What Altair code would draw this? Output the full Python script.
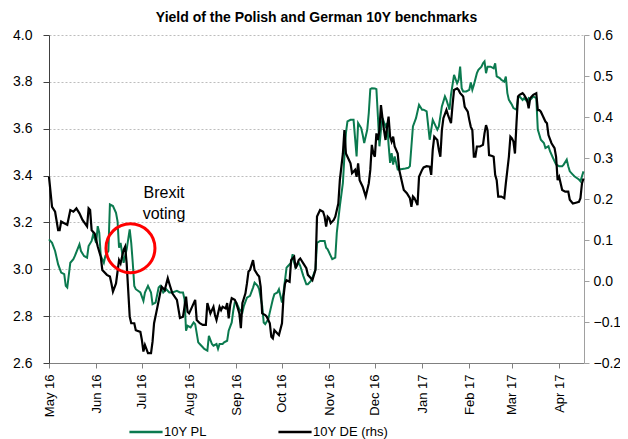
import altair as alt
import pandas as pd

TITLE = "Yield of the Polish and German 10Y benchmarks"
START = "2016-05-01"

# 10Y PL (left axis): day offset from START, yield
pl_days = [0, 2, 4, 6, 8, 10, 11, 12, 14, 16, 17, 20, 21, 23, 25, 26, 28, 29, 31, 32, 33, 34, 36, 37, 39,
           40, 42, 44, 45, 46, 47, 49, 50, 51, 53, 54, 55, 56, 57, 60, 62, 63, 65, 67, 68, 70, 72, 73, 75,
           77, 79, 81, 84, 86, 88, 89, 90, 91, 93, 95, 96, 98, 99, 101, 102, 104, 105, 107, 108, 110, 111,
           112, 114, 115, 117, 118, 120, 121, 122, 123, 125, 127, 128, 130, 132, 134, 135, 137, 138, 140,
           141, 142, 144, 145, 147, 148, 150, 151, 153, 154, 156, 157, 159, 160, 161, 162, 164, 165, 167,
           169, 170, 172, 173, 175, 176, 178, 180, 181, 182, 183, 185, 186, 188, 189, 191, 193, 194, 195,
           196, 198, 200, 201, 202, 203, 205, 206, 207, 209, 210, 211, 212, 214, 215, 216, 217, 218, 219,
           221, 222, 223, 224, 225, 226, 227, 229, 230, 232, 234, 236, 237, 238, 239, 241, 243, 245, 246,
           248, 250, 252, 253, 255, 256, 258, 260, 261, 263, 264, 266, 268, 269, 270, 271, 272, 274, 276,
           277, 278, 279, 281, 282, 284, 285, 286, 287, 288, 290, 292, 293, 294, 296, 297, 299, 300, 301,
           302, 304, 305, 307, 308, 309, 311, 312, 314, 315, 316, 317, 318, 320, 321, 323, 325, 326, 328,
           329, 331, 333, 335, 337, 338, 340, 341, 342, 344, 345, 348, 349, 350, 351]
pl_vals = [3.128, 3.113, 3.078, 3.021, 2.986, 2.979, 2.929, 2.922, 3.028, 3.043, 3.057, 3.106, 3.078,
           3.057, 3.050, 3.099, 3.121, 3.149, 3.113, 3.184, 3.156, 3.057, 3.028, 3.057, 3.078,
           3.277, 3.270, 3.241, 3.206, 3.092, 3.113, 3.028, 3.057, 3.085, 3.170, 3.113, 3.028, 2.929,
           2.915, 2.901, 2.865, 2.901, 2.929, 2.901, 2.851, 2.858, 2.922, 2.929, 2.901,
           2.915, 2.901, 2.901, 2.908, 2.901, 2.901, 2.872, 2.738, 2.759, 2.752, 2.773, 2.766, 2.688,
           2.681, 2.667, 2.660, 2.653, 2.716, 2.681, 2.674, 2.681, 2.660,
           2.681, 2.681, 2.688, 2.695, 2.738, 2.773, 2.823, 2.858, 2.858, 2.830, 2.816, 2.844, 2.879,
           2.887, 2.922, 2.943, 2.929, 2.915, 2.844,
           2.773, 2.766, 2.787, 2.816, 2.872, 2.894, 2.901, 2.915, 2.858, 2.901, 3.007, 3.014, 3.028,
           3.064, 3.028, 3.007, 3.028, 3.014, 2.972,
           2.936, 2.936, 2.950, 2.965, 3.000, 3.113, 3.121, 3.121, 3.121, 3.092, 3.085, 3.057, 3.043,
           3.050, 3.156, 3.270, 3.369, 3.482, 3.582,
           3.631, 3.638, 3.638, 3.560, 3.482, 3.624, 3.603, 3.574, 3.539, 3.596, 3.667, 3.769, 3.773,
           3.772, 3.769, 3.652, 3.525, 3.596, 3.645,
           3.610, 3.624, 3.532, 3.454, 3.496, 3.447, 3.482, 3.426, 3.426, 3.428, 3.430, 3.433, 3.440,
           3.525, 3.610, 3.645, 3.702, 3.681, 3.681,
           3.674, 3.553, 3.638, 3.624, 3.596, 3.610, 3.695, 3.738, 3.723, 3.681, 3.745, 3.830, 3.794,
           3.809, 3.865, 3.773, 3.759, 3.759, 3.766,
           3.797, 3.766, 3.787, 3.837, 3.851, 3.865, 3.879, 3.887, 3.837, 3.865, 3.865, 3.858, 3.879,
           3.823, 3.816, 3.809, 3.801, 3.823, 3.752,
           3.723, 3.702, 3.688, 3.681, 3.730, 3.738, 3.723, 3.730, 3.716, 3.730, 3.723, 3.730, 3.738,
           3.730, 3.596, 3.553, 3.539, 3.518, 3.525,
           3.504, 3.475, 3.447, 3.440, 3.440, 3.447, 3.468, 3.440, 3.418, 3.404, 3.397, 3.383, 3.376,
           3.397, 3.418]

# 10Y DE (right axis): day offset from START, yield
de_days = [0, 2, 4, 6, 7, 8, 10, 12, 14, 16, 18, 20, 22, 25, 26, 27, 28, 30, 32, 34, 35, 38, 40, 41, 42,
           44, 46, 47, 49, 50, 51, 53, 54, 56, 57, 60, 61, 62, 63, 65, 67, 68, 69, 71, 73, 74, 76, 78, 79,
           81, 84, 86, 88, 90, 91, 92, 93, 96, 97, 99, 101, 103, 104, 106, 108, 109, 110, 112, 113, 114,
           116, 117, 118, 119, 120, 122, 123, 125, 126, 127, 129, 130, 131, 132, 134, 135, 137, 138, 139,
           140, 142, 143, 145, 146, 147, 148, 150, 151, 153, 154, 155, 156, 158, 159, 161, 162, 164, 165,
           167, 169, 170, 172, 173, 175, 176, 178, 180, 181, 182, 183, 184, 185, 187, 188, 190, 191, 193,
           194, 195, 196, 198, 199, 201, 202, 203, 204, 205, 206, 208, 210, 211, 212, 213, 214, 215, 216,
           217, 218, 219, 220, 221, 222, 223, 224, 225, 226, 227, 229, 230, 232, 233, 235, 237, 238, 239,
           240, 242, 243, 245, 246, 248, 250, 251, 252, 253, 255, 256, 257, 258, 259, 261, 262, 264, 265,
           266, 268, 269, 270, 271, 272, 273, 275, 276, 277, 278, 279, 280, 281, 283, 285, 286, 287, 288,
           289, 291, 292, 293, 294, 295, 297, 298, 299, 300, 302, 303, 304, 305, 306, 307, 308, 309, 311,
           312, 314, 315, 316, 317, 318, 320, 321, 322, 323, 324, 326, 327, 328, 330, 332, 333, 334, 335,
           337, 339, 341, 342, 344, 346, 348, 349, 350, 351]
de_vals = [0.254, 0.181, 0.169, 0.124, 0.124, 0.145, 0.141, 0.137, 0.173, 0.169, 0.177, 0.165, 0.149,
           0.133, 0.177, 0.173, 0.124, 0.116, 0.084, 0.059, 0.027, 0.015, 0.011, -0.006, -0.026,
           -0.006, 0.051, 0.043, 0.076, 0.084, 0.043, -0.087, -0.103, -0.103, -0.120, -0.124, -0.144,
           -0.172, -0.156, -0.176, -0.176, -0.148, -0.103, -0.067, -0.030, -0.014, -0.022, 0.007, -0.006,
           -0.030, -0.046, -0.090, -0.087, -0.038, -0.075, -0.079, -0.071, -0.046, -0.095, -0.103, -0.107,
           -0.107, -0.054, -0.079, -0.063, -0.083, -0.095, -0.063, -0.071, -0.063,
           -0.067, -0.054, -0.091, -0.058, -0.042, -0.046, -0.054, -0.079, -0.115, -0.054, -0.030, -0.006,
           0.023, 0.027, 0.051, 0.027, 0.015, 0.011, -0.014,
           -0.079, -0.083, -0.087, -0.103, -0.136, -0.140, -0.120, -0.128, -0.132, -0.103, -0.038, -0.006,
           0.002, -0.002, 0.051, 0.059, 0.031, 0.051, 0.055,
           0.043, 0.031, 0.015, 0.007, 0.002, 0.027, 0.157, 0.173, 0.169, 0.157, 0.133, 0.157, 0.153,
           0.141, 0.149, 0.157, 0.189, 0.246, 0.311,
           0.368, 0.311, 0.303, 0.287, 0.263, 0.271, 0.254, 0.287, 0.246, 0.238, 0.230, 0.206, 0.238,
           0.271, 0.332, 0.311, 0.303, 0.360, 0.344,
           0.368, 0.429, 0.397, 0.368, 0.344, 0.376, 0.401, 0.352, 0.340, 0.352, 0.328, 0.311, 0.271,
           0.238, 0.222, 0.214, 0.202, 0.181, 0.206,
           0.202, 0.185, 0.254, 0.271, 0.277, 0.280, 0.279, 0.259, 0.320, 0.352, 0.344, 0.320, 0.303,
           0.368, 0.397, 0.417, 0.405, 0.385, 0.429,
           0.466, 0.470, 0.466, 0.458, 0.454, 0.450, 0.425, 0.413, 0.393, 0.376, 0.368, 0.303, 0.303,
           0.328, 0.328, 0.332, 0.360, 0.380, 0.368,
           0.307, 0.305, 0.303, 0.259, 0.246, 0.206, 0.206, 0.204, 0.202, 0.238, 0.303, 0.352, 0.348,
           0.340, 0.311, 0.385, 0.450, 0.454, 0.458,
           0.454, 0.441, 0.421, 0.446, 0.450, 0.454, 0.458, 0.417, 0.417, 0.413, 0.405, 0.389, 0.385,
           0.356, 0.336, 0.324, 0.303, 0.246, 0.254,
           0.222, 0.218, 0.218, 0.198, 0.189, 0.191, 0.193, 0.202, 0.238, 0.250]

SERIES = ["10Y PL", "10Y DE (rhs)"]
COLORS = ["#0b7a4f", "#000000"]

# annotation: Brexit vote (23 Jun 2016)
circle_date = ["2016-06-23T12:00:00"]
circle_val = [3.09]
note_date = ["2016-07-15T12:00:00"]
note_val = [3.325]
note_text = ["Brexit\nvoting"]

FONT = "Liberation Sans"

base = pd.Timestamp(START)
pl_df = pd.DataFrame({"date": base + pd.to_timedelta(pl_days, unit="D"),
                      "value": pl_vals, "series": SERIES[0]})
de_df = pd.DataFrame({"date": base + pd.to_timedelta(de_days, unit="D"),
                      "value": de_vals, "series": SERIES[1]})
circ_df = pd.DataFrame({"date": pd.to_datetime(circle_date), "value": circle_val})
note_df = pd.DataFrame({"date": pd.to_datetime(note_date), "value": note_val, "text": note_text})

month_ticks = [alt.DateTime(year=2016, month=m, date=1) for m in range(5, 13)] + \
              [alt.DateTime(year=2017, month=m, date=1) for m in range(1, 5)]
xscale = alt.Scale(domain=[alt.DateTime(year=2016, month=5, date=1),
                           alt.DateTime(year=2017, month=4, date=17, hours=8)])
x_enc = alt.X("date:T", scale=xscale, title=None,
              axis=alt.Axis(values=month_ticks, format="%b %y", labelAngle=270,
                            labelFont=FONT, labelFontSize=13, labelColor="#000000",
                            domainColor="#808080", tickColor="#808080", tickSize=5,
                            labelPadding=6, grid=False))

left_scale = alt.Scale(domain=[2.6, 4.0], nice=False, zero=False)
right_scale = alt.Scale(domain=[-0.2, 0.6], nice=False, zero=False)

left_vals = [2.6, 2.8, 3.0, 3.2, 3.4, 3.6, 3.8, 4.0]
right_vals = [-0.2, -0.1, 0.0, 0.1, 0.2, 0.3, 0.4, 0.5, 0.6]

color_enc = alt.Color("series:N",
                      scale=alt.Scale(domain=SERIES, range=COLORS),
                      legend=alt.Legend(title=None, orient="none", direction="horizontal",
                                        legendX=79, legendY=379, symbolType="stroke",
                                        symbolSize=1100, symbolStrokeWidth=2.5,
                                        labelFont=FONT, labelFontSize=13, labelColor="#000000",
                                        columnPadding=66, labelOffset=0))

pl_line = alt.Chart(pl_df).mark_line(strokeWidth=2).encode(
    x=x_enc,
    y=alt.Y("value:Q", scale=left_scale, title=None,
            axis=alt.Axis(orient="left", values=left_vals, format=".1f",
                          labelFont=FONT, labelFontSize=14, labelColor="#000000",
                          domainColor="#404040", tickColor="#404040", tickSize=6,
                          labelPadding=11, grid=True, gridColor="#bdbdbd",
                          gridDash=[2, 2], gridWidth=1)),
    color=color_enc,
)

de_line = alt.Chart(de_df).mark_line(strokeWidth=2.2).encode(
    x=x_enc,
    y=alt.Y("value:Q", scale=right_scale, title=None,
            axis=alt.Axis(orient="right", values=right_vals, format=".1f",
                          labelFont=FONT, labelFontSize=14, labelColor="#000000",
                          domainColor="#a0a0a0", tickColor="#a0a0a0", tickSize=5,
                          labelPadding=4, grid=False)),
    color=color_enc,
)

circle = alt.Chart(circ_df).mark_point(shape="circle", size=2400, filled=False,
                                       strokeWidth=3, color="#ff0000", opacity=1).encode(
    x=x_enc,
    y=alt.Y("value:Q", scale=left_scale, axis=None),
)

note = alt.Chart(note_df).mark_text(font=FONT, fontSize=16, lineBreak="\n", lineHeight=21,
                                    align="center", baseline="middle", color="#000000").encode(
    x=x_enc,
    y=alt.Y("value:Q", scale=left_scale, axis=None),
    text="text:N",
)

chart = alt.layer(pl_line, de_line, circle, note).resolve_scale(
    y="independent"
).properties(
    width=535, height=328,
    title=alt.TitleParams(TITLE, font=FONT, fontSize=14, fontWeight="bold",
                          anchor="middle", offset=3, color="#000000"),
    autosize=alt.AutoSizeParams(type="none"),
    padding={"left": 41, "top": 27, "right": 36, "bottom": 76},
).configure_view(strokeOpacity=0)

chart.save("out.html", embed_options={"renderer": "svg", "actions": False})
